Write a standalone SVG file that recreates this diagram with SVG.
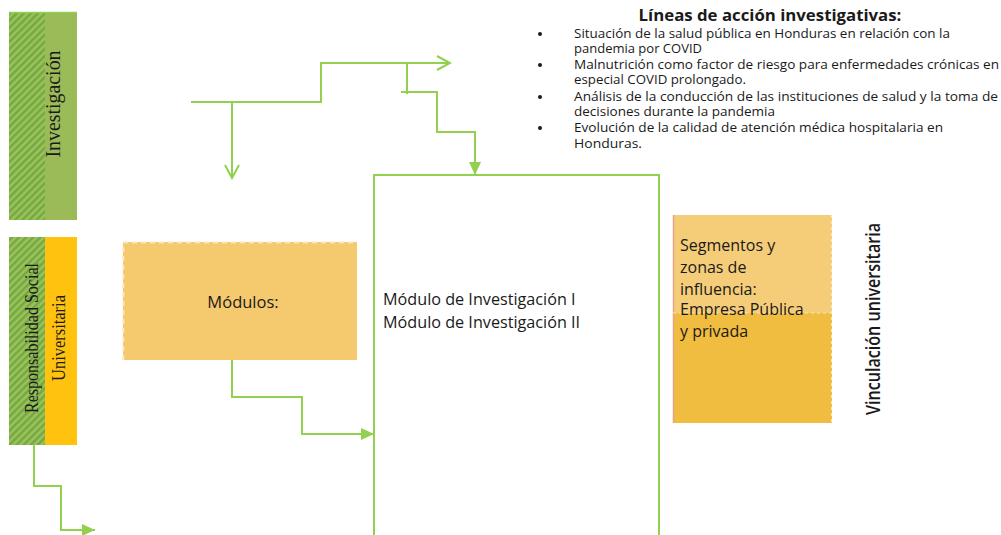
<svg xmlns="http://www.w3.org/2000/svg" width="1001" height="535" viewBox="0 0 1001 535">
<style>
.conn{fill:none;stroke:#92d050;stroke-width:2}
.t{font-family:"Open Sans","Liberation Sans",sans-serif;fill:#1a1a1a}
.serif{font-family:"Liberation Serif","DejaVu Serif",serif;fill:#1a1a1a}
</style>
<defs>
<pattern id="hatch" patternUnits="userSpaceOnUse" width="5" height="5" patternTransform="rotate(45)">
<rect width="5" height="5" fill="#9cc35a"/>
<rect width="2.5" height="5" fill="#74a843"/>
</pattern>
<marker id="open" markerUnits="userSpaceOnUse" markerWidth="16" markerHeight="16" refX="14" refY="8" orient="auto">
<path d="M1,1 L14,8 L1,15" fill="none" stroke="#92d050" stroke-width="2"/>
</marker>
<marker id="fill" markerUnits="userSpaceOnUse" markerWidth="14" markerHeight="12" refX="13" refY="6" orient="auto">
<path d="M0,0 L13,6 L0,12 Z" fill="#92d050"/>
</marker>
</defs>
<rect width="1001" height="535" fill="#ffffff"/>

<g id="investigacion">
<rect x="9" y="12" width="68" height="208" fill="#9bbb59"/>
<rect x="9" y="12" width="36" height="208" fill="url(#hatch)"/>
<line x1="9" y1="12.5" x2="77" y2="12.5" stroke="#92d050" stroke-width="1.5"/>
<text class="serif" font-size="22" transform="translate(52,104) rotate(-90)" text-anchor="middle" dominant-baseline="central" textLength="107" lengthAdjust="spacingAndGlyphs">Investigación</text>
</g>

<g id="rsu">
<rect x="9" y="237" width="68" height="208" fill="#ffc20e"/>
<rect x="9" y="237" width="36" height="208" fill="url(#hatch)"/>
<text class="serif" font-size="18" transform="translate(32,338) rotate(-90)" text-anchor="middle" dominant-baseline="central" textLength="150" lengthAdjust="spacingAndGlyphs">Responsabilidad Social</text>
<text class="serif" font-size="18" transform="translate(59,338) rotate(-90)" text-anchor="middle" dominant-baseline="central" textLength="86" lengthAdjust="spacingAndGlyphs">Universitaria</text>
</g>

<g id="lineas">
<text class="t" x="770" y="21" font-size="16.8" font-weight="bold" text-anchor="middle">Líneas de acción investigativas:</text>
<g font-size="12.4" class="t">
<circle cx="540" cy="34" r="2" fill="#1a1a1a"/>
<text x="574" y="38" textLength="376" lengthAdjust="spacingAndGlyphs">Situación de la salud pública en Honduras en relación con la</text>
<text x="574" y="53" textLength="128" lengthAdjust="spacingAndGlyphs">pandemia por COVID</text>
<circle cx="540" cy="65" r="2" fill="#1a1a1a"/>
<text x="574" y="69" textLength="425" lengthAdjust="spacingAndGlyphs">Malnutrición como factor de riesgo para enfermedades crónicas en</text>
<text x="574" y="84" textLength="172" lengthAdjust="spacingAndGlyphs">especial COVID prolongado.</text>
<circle cx="540" cy="97" r="2" fill="#1a1a1a"/>
<text x="574" y="101" textLength="424" lengthAdjust="spacingAndGlyphs">Análisis de la conducción de las instituciones de salud y la toma de</text>
<text x="574" y="116" textLength="201" lengthAdjust="spacingAndGlyphs">decisiones durante la pandemia</text>
<circle cx="540" cy="128" r="2" fill="#1a1a1a"/>
<text x="574" y="132" textLength="369" lengthAdjust="spacingAndGlyphs">Evolución de la calidad de atención médica hospitalaria en</text>
<text x="574" y="148" textLength="68" lengthAdjust="spacingAndGlyphs">Honduras.</text>
</g>
</g>

<g id="modulos">
<rect x="123" y="242" width="234" height="118" fill="#f5c96e"/>
<path d="M123.5,360 V242.5 H357" fill="none" stroke="#fbe6b8" stroke-width="2" stroke-dasharray="5,4"/>
<text class="t" x="243" y="308" font-size="16.5" text-anchor="middle">Módulos:</text>
</g>

<g id="modulos-inv">
<path d="M374,535 V175 H659 V535" fill="none" stroke="#92d050" stroke-width="2"/>
<text class="t" x="383" y="305" font-size="16.2">Módulo de Investigación I</text>
<text class="t" x="383" y="328" font-size="16.2">Módulo de Investigación II</text>
</g>

<g id="segmentos">
<rect x="673" y="215" width="159" height="98" fill="#f5cd78"/>
<rect x="673" y="313" width="159" height="110" fill="#f0bd40"/>
<line x1="673.5" y1="215" x2="673.5" y2="423" stroke="#e0a58a" stroke-width="1.5"/>
<line x1="831.5" y1="215" x2="831.5" y2="423" stroke="#fbe6b8" stroke-width="1.2" stroke-dasharray="3,3"/>
<line x1="673" y1="313" x2="832" y2="313" stroke="#fbe6b8" stroke-width="1.2" stroke-dasharray="3,3"/>
<g class="t" font-size="16">
<text x="680" y="251">Segmentos y</text>
<text x="680" y="273">zonas de</text>
<text x="680" y="295">influencia:</text>
<text x="680" y="315">Empresa Pública</text>
<text x="680" y="337">y privada</text>
</g>
</g>

<g id="vinculacion">
<text class="t" font-size="20" font-weight="600" transform="translate(872,319) rotate(-90)" text-anchor="middle" dominant-baseline="central" textLength="192" lengthAdjust="spacingAndGlyphs">Vinculación universitaria</text>
</g>

<g id="connectors">
<path class="conn" d="M191,102 H321 V63 H450" marker-end="url(#open)"/>
<path class="conn" d="M232,102 V178" marker-end="url(#open)"/>
<path class="conn" d="M407,63 V94"/>
<path class="conn" d="M401,92 H437 V132 H475 V175" marker-end="url(#fill)"/>
<path class="conn" d="M232,360 V397 H302 V434 H374" marker-end="url(#fill)"/>
<path class="conn" d="M34,445 V486 H61 V530 H95" marker-end="url(#fill)"/>
</g>
</svg>
